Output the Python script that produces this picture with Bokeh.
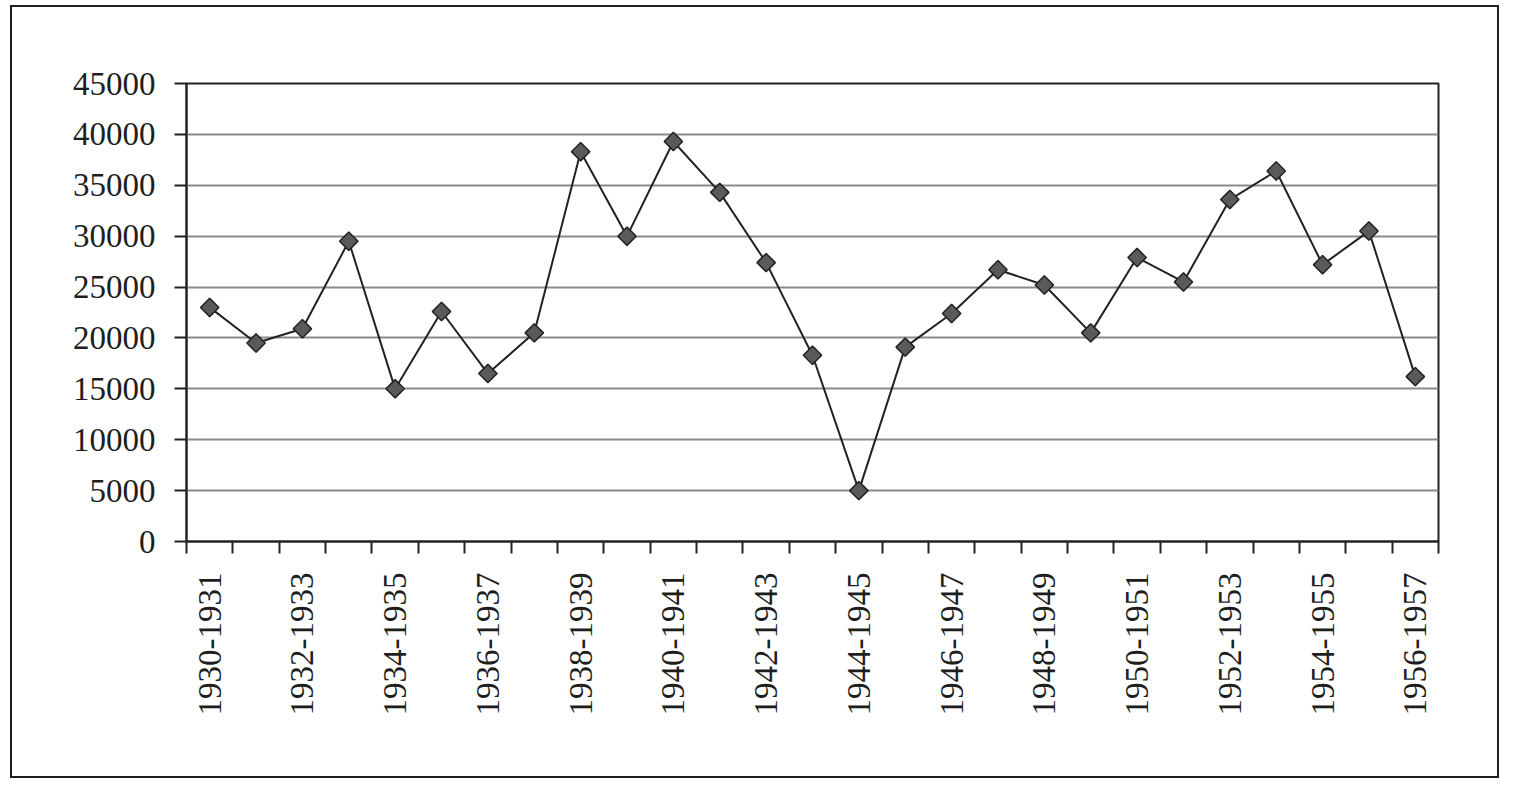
import math
from bokeh.plotting import figure
from bokeh.models import Range1d, FixedTicker
from bokeh.embed import file_html
from bokeh.resources import INLINE

categories = [f"{y}-{y+1}" for y in range(1930, 1957)]
values = [23000, 19500, 20900, 29500, 15000, 22600, 16500, 20500, 38300, 30000,
          39300, 34300, 27400, 18300, 5000, 19100, 22400, 26700, 25200, 20500,
          27900, 25500, 33600, 36400, 27200, 30500, 16200]
y_ticks = list(range(0, 45001, 5000))

n = len(categories)
xs = [i + 0.5 for i in range(n)]

FONT = "Liberation Serif"

p = figure(frame_width=1252, frame_height=458,
           x_range=Range1d(0, n), y_range=Range1d(0, 45000),
           output_backend="svg", toolbar_location=None,
           min_border_left=174, min_border_top=76, min_border_right=59, min_border_bottom=235)
p.styles = {"border": "2.5px solid #1e1e1e", "margin-left": "10px", "margin-top": "5px"}

p.background_fill_color = "white"
p.border_fill_color = "white"
p.outline_line_color = "#222222"
p.outline_line_width = 2

# grid
p.xgrid.visible = False
p.ygrid.ticker = FixedTicker(ticks=y_ticks)
p.ygrid.grid_line_color = "#8a8a8a"
p.ygrid.grid_line_width = 2

# y axis
ya = p.yaxis[0]
ya.ticker = FixedTicker(ticks=y_ticks)
ya.axis_line_color = "#222222"
ya.axis_line_width = 2
ya.major_tick_line_color = "#222222"
ya.major_tick_line_width = 2
ya.major_tick_out = 12
ya.major_tick_in = 0
ya.minor_tick_line_color = None
ya.major_label_standoff = 19
ya.major_label_text_font = FONT
ya.major_label_text_font_size = "33px"
ya.major_label_text_color = "#1e1e1e"

# x axis
xa = p.xaxis[0]
label_pos = [xs[i] for i in range(0, n, 2)]
xa.ticker = FixedTicker(ticks=label_pos, minor_ticks=list(range(0, n + 1)))
xa.major_label_overrides = {xs[i]: categories[i] for i in range(0, n, 2)}
xa.axis_line_color = "#222222"
xa.axis_line_width = 2
xa.major_tick_out = 0
xa.major_tick_in = 0
xa.minor_tick_out = 12
xa.minor_tick_in = 0
xa.minor_tick_line_color = "#222222"
xa.minor_tick_line_width = 2
xa.major_label_orientation = math.pi / 2
xa.major_label_standoff = 19
xa.major_label_text_font = FONT
xa.major_label_text_font_size = "33px"
xa.major_label_text_color = "#1e1e1e"

p.line(xs, values, line_color="#222222", line_width=2)
p.scatter(xs, values, marker="square", angle=math.pi / 4, size=13,
          fill_color="#5a5a5a", line_color="#222222", line_width=1.5)

open("out.html", "w").write(file_html(p, INLINE))
